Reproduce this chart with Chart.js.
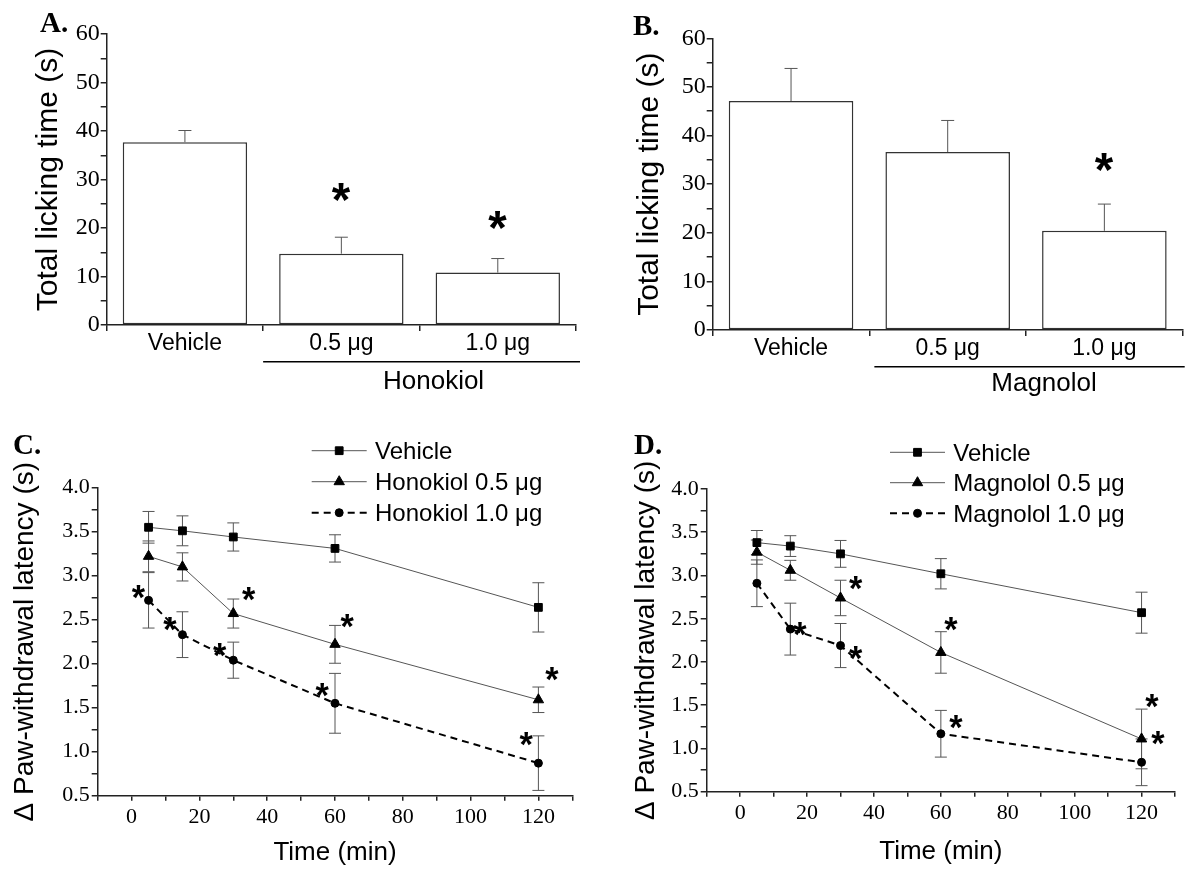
<!DOCTYPE html>
<html><head><meta charset="utf-8">
<script src="https://cdn.jsdelivr.net/npm/chart.js@4/dist/chart.umd.min.js"></script>
<style>
html,body{margin:0;padding:0;background:#fff;}
body{width:1200px;height:876px;position:relative;overflow:hidden;}
canvas{position:absolute;}
</style></head><body>
<canvas id="cA" width="600" height="420" style="left:0;top:0"></canvas>
<canvas id="cB" width="600" height="420" style="left:600px;top:0"></canvas>
<canvas id="cC" width="600" height="456" style="left:0;top:420px"></canvas>
<canvas id="cD" width="600" height="456" style="left:600px;top:420px"></canvas>
<script>
// ---------- DATA ----------
const barCategories = ['Vehicle', '0.5 μg', '1.0 μg'];
const honokiolLicking = [37.7, 14.7, 10.8];
const honokiolLickingErr = [2.4, 3.4, 2.9];
const magnololLicking = [47.1, 36.6, 20.4];
const magnololLickingErr = [6.7, 6.5, 5.5];
const honokiolBarStars = [{x: 1, y: 27.5}, {x: 2, y: 21.6}];
const magnololBarStars = [{x: 2, y: 34.6}];

const timePoints = [5, 15, 30, 60, 120];
const cVehicle = [3.55, 3.51, 3.44, 3.31, 2.64];
const cVehicleErr = [0.18, 0.17, 0.16, 0.155, 0.28];
const cHon05 = [3.22, 3.10, 2.57, 2.22, 1.59];
const cHon05Err = [0.175, 0.16, 0.165, 0.215, 0.145];
const cHon10 = [2.72, 2.33, 2.04, 1.55, 0.87];
const cHon10Err = [0.315, 0.26, 0.205, 0.34, 0.31];
const cStars = [{x: 2.1, y: 2.81}, {x: 11.4, y: 2.45}, {x: 26.1, y: 2.16}, {x: 34.6, y: 2.79},
                {x: 63.7, y: 2.49}, {x: 56.3, y: 1.70}, {x: 124.1, y: 1.88}, {x: 116.5, y: 1.14}];

const dVehicle = [3.38, 3.34, 3.25, 3.02, 2.57];
const dVehicleErr = [0.14, 0.12, 0.155, 0.175, 0.237];
const dMag05 = [3.27, 3.06, 2.74, 2.11, 1.11];
const dMag05Err = [0.14, 0.115, 0.205, 0.24, 0.345];
const dMag10 = [2.91, 2.38, 2.19, 1.17, 0.84];
const dMag10Err = [0.27, 0.30, 0.255, 0.27, 0.27];
const dStars = [{x: 18.0, y: 2.38}, {x: 34.6, y: 2.91}, {x: 34.6, y: 2.10}, {x: 63.1, y: 2.44},
                {x: 64.6, y: 1.31}, {x: 123.2, y: 1.55}, {x: 125.0, y: 1.12}];

const barYRange = [0, 60];
const lineYRange = [0.5, 4.0];
const lineXRange = [-10, 130];

// ---------- STYLE HELPERS ----------
const SANS = '"Liberation Sans", Arial, Helvetica, sans-serif';
const SERIF = '"Liberation Serif", "Times New Roman", Times, serif';
const AXIS = '#222';

function drawCentered(ctx, text, cx, cy, font, align) {
  ctx.font = font;
  const capH = ctx.measureText('H').actualBoundingBoxAscent;
  ctx.textAlign = align || 'center';
  ctx.textBaseline = 'alphabetic';
  ctx.fillText(text, cx, cy + capH / 2);
}
function drawMarker(ctx, style, r, x, y) {
  ctx.beginPath();
  if (style === 'rect') {
    const s = r * Math.SQRT1_2;
    ctx.rect(x - s, y - s, 2 * s, 2 * s);
  } else if (style === 'triangle') {
    let rad = 0;
    ctx.moveTo(x + Math.sin(rad) * r, y - Math.cos(rad) * r);
    rad += 2 * Math.PI / 3;
    ctx.lineTo(x + Math.sin(rad) * r, y - Math.cos(rad) * r);
    rad += 2 * Math.PI / 3;
    ctx.lineTo(x + Math.sin(rad) * r, y - Math.cos(rad) * r);
    ctx.closePath();
  } else {
    ctx.arc(x, y, r, 0, Math.PI * 2);
  }
  ctx.fill();
  ctx.stroke();
}

// ---------- PLUGINS ----------
const errorBarsPlugin = {
  id: 'errorBars',
  afterDatasetsDraw(chart, args, opts) {
    const ctx = chart.ctx;
    ctx.save();
    ctx.strokeStyle = opts.color || '#555';
    ctx.lineWidth = opts.width || 1;
    const cap = opts.cap || 12;
    chart.data.datasets.forEach((ds, i) => {
      if (!ds.errors) return;
      const meta = chart.getDatasetMeta(i);
      const yS = chart.scales[meta.yAxisID];
      meta.data.forEach((el, j) => {
        const v = ds.data[j];
        const val = (typeof v === 'object') ? v.y : v;
        const e = ds.errors[j];
        const x = el.x;
        const top = yS.getPixelForValue(val + e);
        const bot = opts.upperOnly ? yS.getPixelForValue(val) : yS.getPixelForValue(val - e);
        ctx.beginPath();
        ctx.moveTo(x, top); ctx.lineTo(x, bot);
        ctx.moveTo(x - cap / 2, top); ctx.lineTo(x + cap / 2, top);
        if (!opts.upperOnly) { ctx.moveTo(x - cap / 2, bot); ctx.lineTo(x + cap / 2, bot); }
        ctx.stroke();
      });
    });
    ctx.restore();
  }
};
// markers drawn on top of error bars
const markersOnTopPlugin = {
  id: 'markersOnTop',
  afterDatasetsDraw(chart) {
    const ctx = chart.ctx;
    ctx.save();
    chart.data.datasets.forEach((ds, i) => {
      if (!ds.markerStyle) return;
      const meta = chart.getDatasetMeta(i);
      ctx.fillStyle = '#000'; ctx.strokeStyle = '#000'; ctx.lineWidth = 1;
      meta.data.forEach(el => drawMarker(ctx, ds.markerStyle, ds.markerRadius, el.x, el.y));
    });
    ctx.restore();
  }
};
const starsPlugin = {
  id: 'stars',
  afterDatasetsDraw(chart, args, opts) {
    const ctx = chart.ctx;
    const xS = chart.scales.x, yS = chart.scales.y;
    ctx.save();
    ctx.font = 'bold 100px ' + SANS;
    const m0 = ctx.measureText('*');
    const h0 = m0.actualBoundingBoxAscent + m0.actualBoundingBoxDescent;
    const fs = 100 * opts.height / h0;
    ctx.font = 'bold ' + fs + 'px ' + SANS;
    const m = ctx.measureText('*');
    ctx.textAlign = 'left'; ctx.textBaseline = 'alphabetic'; ctx.fillStyle = '#000';
    (opts.points || []).forEach(s => {
      const px = xS.getPixelForValue(s.x), py = yS.getPixelForValue(s.y);
      const X = px - (m.actualBoundingBoxRight - m.actualBoundingBoxLeft) / 2;
      const Y = py + (m.actualBoundingBoxAscent - m.actualBoundingBoxDescent) / 2;
      ctx.fillText('*', X, Y);
    });
    ctx.restore();
  }
};
const decorPlugin = {
  id: 'decor',
  afterDraw(chart, args, opts) {
    const ctx = chart.ctx;
    ctx.save();
    ctx.fillStyle = '#000';
    if (opts.panel) {
      ctx.font = 'bold 29px ' + SERIF;
      ctx.textAlign = 'left'; ctx.textBaseline = 'alphabetic';
      ctx.fillText(opts.panel.text, opts.panel.x, opts.panel.y);
    }
    if (opts.group) {
      const g = opts.group, xS = chart.scales.x;
      const x0 = (xS.getPixelForValue(0) + xS.getPixelForValue(1)) / 2 + (g.startDx || 0);
      const x1 = chart.chartArea.right + (g.endDx || 0);
      ctx.strokeStyle = '#000'; ctx.lineWidth = 1.5;
      ctx.beginPath(); ctx.moveTo(x0, g.lineY); ctx.lineTo(x1, g.lineY); ctx.stroke();
      const cx = (xS.getPixelForValue(1) + xS.getPixelForValue(2)) / 2 + (g.textDx || 0);
      drawCentered(ctx, g.text, cx, g.textY, g.fontSize + 'px ' + SANS);
    }
    if (opts.legend) {
      const L = opts.legend;
      chart.data.datasets.forEach((ds, i) => {
        const y = L.rows[i];
        ctx.save();
        ctx.strokeStyle = ds.borderColor; ctx.lineWidth = ds.borderWidth;
        ctx.setLineDash(ds.borderDash || []);
        ctx.beginPath(); ctx.moveTo(L.x1, y); ctx.lineTo(L.x2, y); ctx.stroke();
        ctx.restore();
        ctx.fillStyle = '#000'; ctx.strokeStyle = '#000'; ctx.lineWidth = 1;
        drawMarker(ctx, ds.markerStyle, ds.markerRadius, (L.x1 + L.x2) / 2, y);
        ctx.fillStyle = '#000';
        drawCentered(ctx, ds.label, L.textX, y, L.fontSize + 'px ' + SANS, 'left');
      });
    }
    ctx.restore();
  }
};

// ---------- BAR PANELS ----------
function barChart(id, values, errs, stars, geo) {
  return new Chart(document.getElementById(id), {
    type: 'bar',
    data: {
      labels: barCategories,
      datasets: [{
        data: values, errors: errs,
        backgroundColor: '#fff', borderColor: '#333', borderWidth: 1.5,
        borderSkipped: false, barPercentage: 0.795, categoryPercentage: 1.0
      }]
    },
    options: {
      responsive: false, animation: false, devicePixelRatio: 1,
      layout: {padding: {left: 0, top: geo.top, right: geo.right, bottom: 0}},
      plugins: {
        legend: {display: false}, tooltip: {enabled: false},
        errorBars: {upperOnly: true, color: '#555', width: 1, cap: 13},
        stars: {points: stars, height: 18},
        decor: {panel: geo.panel, group: geo.group}
      },
      scales: {
        x: {
          type: 'category', offset: true,
          grid: {offset: true, drawOnChartArea: false, drawTicks: true, tickLength: 6, color: AXIS, lineWidth: 1.5},
          border: {display: true, color: AXIS, width: 1.5},
          ticks: {font: {family: SANS, size: 23}, color: '#000', padding: -1, maxRotation: 0, autoSkip: false},
          afterFit(s) { s.height = geo.xH; }
        },
        y: {
          min: barYRange[0], max: barYRange[1],
          grid: {drawOnChartArea: false, drawTicks: true, tickLength: 6, color: AXIS, lineWidth: 1.5},
          border: {display: true, color: AXIS, width: 1.5},
          ticks: {stepSize: 5, autoSkip: false, color: '#000', padding: 1,
                  font: {family: SERIF, size: 24},
                  callback: v => (Math.round(v) % 10 === 0 ? String(v) : '')},
          title: {display: true, text: 'Total licking time (s)', color: '#000',
                  font: {family: SANS, size: 30}, padding: {top: geo.titlePad, bottom: 0}},
          afterFit(s) { s.width = geo.yW; }
        }
      }
    },
    plugins: [errorBarsPlugin, starsPlugin, decorPlugin]
  });
}

barChart('cA', honokiolLicking, honokiolLickingErr, honokiolBarStars, {
  top: 34, right: 24, xH: 95, yW: 106.7, titlePad: 31,
  panel: {text: 'A.', x: 40, y: 32},
  group: {text: 'Honokiol', lineY: 361.7, textY: 380, fontSize: 26, textDx: 14, startDx: 0, endDx: 4}
});
barChart('cB', magnololLicking, magnololLickingErr, magnololBarStars, {
  top: 38.3, right: 17.3, xH: 90, yW: 112.7, titlePad: 32,
  panel: {text: 'B.', x: 33, y: 35},
  group: {text: 'Magnolol', lineY: 366.7, textY: 381.7, fontSize: 26, textDx: 18, startDx: 5, endDx: 2}
});

// ---------- LINE PANELS ----------
function series(label, vals, errs, style, radius, dashed) {
  return {
    label: label,
    data: timePoints.map((t, i) => ({x: t, y: vals[i]})),
    errors: errs,
    markerStyle: style, markerRadius: radius,
    borderColor: dashed ? '#000' : '#555',
    borderWidth: dashed ? 2 : 1,
    borderDash: dashed ? [7, 5] : [],
    pointRadius: 0, showLine: true, tension: 0, fill: false
  };
}
function lineChart(id, datasets, stars, geo) {
  return new Chart(document.getElementById(id), {
    type: 'line',
    data: {datasets: datasets},
    options: {
      responsive: false, animation: false, devicePixelRatio: 1,
      layout: {padding: {left: 0, top: geo.top, right: geo.right, bottom: 0}},
      plugins: {
        legend: {display: false}, tooltip: {enabled: false},
        errorBars: {upperOnly: false, color: '#555', width: 1, cap: 12},
        stars: {points: stars, height: 13},
        decor: {panel: geo.panel, legend: geo.legend}
      },
      scales: {
        x: {
          type: 'linear', min: lineXRange[0], max: lineXRange[1],
          grid: {drawOnChartArea: false, drawTicks: true, tickLength: 5, color: AXIS, lineWidth: 1.5},
          border: {display: true, color: AXIS, width: 1.5},
          ticks: {stepSize: 10, autoSkip: false, maxRotation: 0, color: '#000', padding: 3,
                  font: {family: SERIF, size: 22},
                  callback: v => (Math.round(v) % 20 === 0 ? String(v) : '')},
          title: {display: true, text: 'Time (min)', color: '#000',
                  font: {family: SANS, size: 26}, padding: {top: 0, bottom: geo.xTitlePad}},
          afterFit(s) { s.height = geo.xH; }
        },
        y: {
          min: lineYRange[0], max: lineYRange[1],
          grid: {drawOnChartArea: false, drawTicks: true, tickLength: 6, color: AXIS, lineWidth: 1.5},
          border: {display: true, color: AXIS, width: 1.5},
          ticks: {stepSize: 0.25, autoSkip: false, color: '#000', padding: 2,
                  font: {family: SERIF, size: 22},
                  callback: v => (Math.abs(v * 2 - Math.round(v * 2)) < 1e-6 ? v.toFixed(1) : '')},
          title: {display: true, text: 'Δ Paw-withdrawal latency (s)', color: '#000',
                  font: {family: SANS, size: 28}, padding: {top: geo.yTitlePad, bottom: 0}},
          afterFit(s) { s.width = geo.yW; }
        }
      }
    },
    plugins: [errorBarsPlugin, markersOnTopPlugin, starsPlugin, decorPlugin]
  });
}

lineChart('cC', [
  series('Vehicle', cVehicle, cVehicleErr, 'rect', 5.5, false),
  series('Honokiol 0.5 μg', cHon05, cHon05Err, 'triangle', 6, false),
  series('Honokiol 1.0 μg', cHon10, cHon10Err, 'circle', 4, true)
], cStars, {
  top: 67.7, right: 27.7, xH: 80.3, yW: 97.7, yTitlePad: 8.2, xTitlePad: 7.4,
  panel: {text: 'C.', x: 13, y: 34},
  legend: {x1: 311.7, x2: 366.7, textX: 375, rows: [30.7, 61.7, 92.7], fontSize: 24}
});
lineChart('cD', [
  series('Vehicle', dVehicle, dVehicleErr, 'rect', 5.5, false),
  series('Magnolol 0.5 μg', dMag05, dMag05Err, 'triangle', 6, false),
  series('Magnolol 1.0 μg', dMag10, dMag10Err, 'circle', 4, true)
], dStars, {
  top: 69, right: 25, xH: 84.3, yW: 106.7, yTitlePad: 29.9, xTitlePad: 8.7,
  panel: {text: 'D.', x: 34, y: 34},
  legend: {x1: 290, x2: 345, textX: 353.3, rows: [32.3, 62.7, 93.3], fontSize: 24}
});
</script>
</body></html>
